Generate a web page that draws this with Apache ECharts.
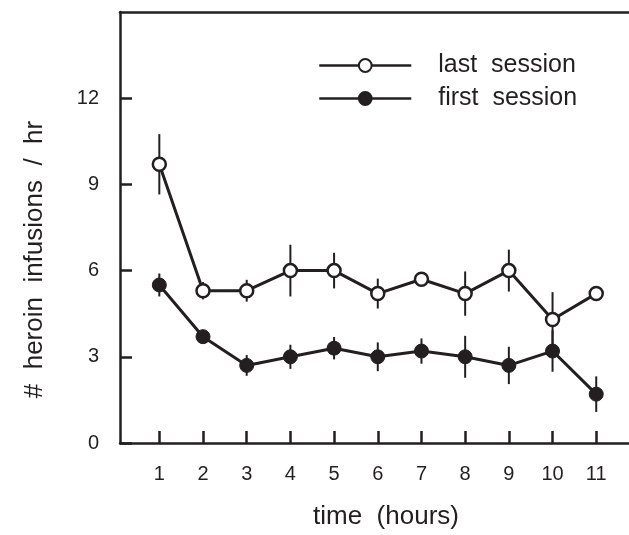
<!DOCTYPE html>
<html lang="en">
<head>
    <meta charset="UTF-8">
    <title>heroin infusions</title>
    <script type="text/javascript" src="https://cdn.jsdelivr.net/npm/echarts@6/dist/echarts.min.js"></script>
    <style>
        html, body { margin: 0; padding: 0; background: #fff; }
    </style>
</head>
<body>
<div id="main" style="width: 629px;height:535px;"></div>

<script type="text/javascript">

    var hours = [1, 2, 3, 4, 5, 6, 7, 8, 9, 10, 11];
    var lastMean = [9.7, 5.3, 5.3, 6.0, 6.0, 5.2, 5.7, 5.2, 6.0, 4.3, 5.2];
    var lastSem = [1.05, 0.3, 0.38, 0.9, 0.62, 0.52, 0.15, 0.77, 0.73, 0.95, 0.15];
    var firstMean = [5.5, 3.7, 2.7, 3.0, 3.3, 3.0, 3.2, 3.0, 2.7, 3.2, 1.7];
    var firstSem = [0.4, 0.15, 0.36, 0.42, 0.39, 0.5, 0.44, 0.73, 0.65, 0.72, 0.62];
    var yTicks = [0, 3, 6, 9, 12];

    var ink = '#231f20';
    var font = "'Liberation Sans', Arial, sans-serif";

    function pairs(mean) {
        var out = [];
        for (var i = 0; i < hours.length; i++) {
            out.push([hours[i], mean[i]]);
        }
        return out;
    }

    function bars(mean, sem) {
        var out = [];
        for (var i = 0; i < hours.length; i++) {
            out.push([hours[i], mean[i] - sem[i], mean[i] + sem[i]]);
        }
        return out;
    }

    // vertical error bar, drawn under the markers
    function errorBar(params, api) {
        var p1 = api.coord([api.value(0), api.value(1)]);
        var p2 = api.coord([api.value(0), api.value(2)]);
        return {
            type: 'line',
            shape: {x1: p1[0], y1: p1[1], x2: p2[0], y2: p2[1]},
            style: {stroke: ink, lineWidth: 2}
        };
    }

    var chart = echarts.init(document.getElementById('main'));
    var option = {
        backgroundColor: '#fff',
        animation: false,
        textStyle: {fontFamily: font, color: ink},
        grid: {left: 120, right: 0, top: 12, bottom: 91},
        legend: {
            data: ['last  session', 'first  session'],
            orient: 'vertical',
            left: 313,
            top: 48,
            itemWidth: 92,
            itemHeight: 16,
            itemGap: 8,
            lineStyle: {width: 2.5, color: ink},
            textStyle: {fontSize: 25, color: ink, fontFamily: font, padding: [0, 0, 0, 22]}
        },
        xAxis: [{
            type: 'value',
            min: 0.1,
            max: 11.75,
            name: 'time  (hours)',
            nameLocation: 'middle',
            nameGap: 61,
            nameTextStyle: {fontSize: 26, color: ink, padding: [0, 0, 0, 23]},
            axisLine: {lineStyle: {color: ink, width: 2.5}},
            axisTick: {inside: true, length: 12, customValues: hours, lineStyle: {color: ink, width: 2.5}},
            axisLabel: {customValues: hours, fontSize: 20, color: ink, margin: 21},
            splitLine: {show: false}
        }, {
            type: 'value',
            position: 'top',
            min: 0.1,
            max: 11.75,
            axisLine: {show: true, lineStyle: {color: ink, width: 2.5}},
            axisTick: {show: false},
            axisLabel: {show: false},
            splitLine: {show: false}
        }],
        yAxis: {
            type: 'value',
            min: 0,
            max: 15,
            interval: 3,
            name: '#  heroin  infusions  /  hr',
            nameLocation: 'middle',
            nameGap: 72,
            nameTextStyle: {fontSize: 26, color: ink, padding: [0, 64, 0, 0]},
            axisLine: {show: true, lineStyle: {color: ink, width: 2.5}},
            axisTick: {inside: true, length: 12, customValues: yTicks, lineStyle: {color: ink, width: 2.5}},
            axisLabel: {customValues: yTicks, fontSize: 20, color: ink, margin: 21},
            splitLine: {show: false}
        },
        series: [
            {
                name: 'last session err',
                type: 'custom',
                renderItem: errorBar,
                encode: {x: 0, y: [1, 2]},
                data: bars(lastMean, lastSem),
                z: 1
            },
            {
                name: 'first session err',
                type: 'custom',
                renderItem: errorBar,
                encode: {x: 0, y: [1, 2]},
                data: bars(firstMean, firstSem),
                z: 1
            },
            {
                name: 'last  session',
                type: 'line',
                data: pairs(lastMean),
                symbol: 'circle',
                symbolSize: 13,
                lineStyle: {color: ink, width: 3},
                itemStyle: {color: '#fff', borderColor: ink, borderWidth: 2.5},
                z: 3
            },
            {
                name: 'first  session',
                type: 'line',
                data: pairs(firstMean),
                symbol: 'circle',
                symbolSize: 14,
                lineStyle: {color: ink, width: 3},
                itemStyle: {color: ink, borderColor: ink, borderWidth: 1},
                z: 3
            }
        ]
    };
    chart.setOption(option);
</script>
</body>
</html>
